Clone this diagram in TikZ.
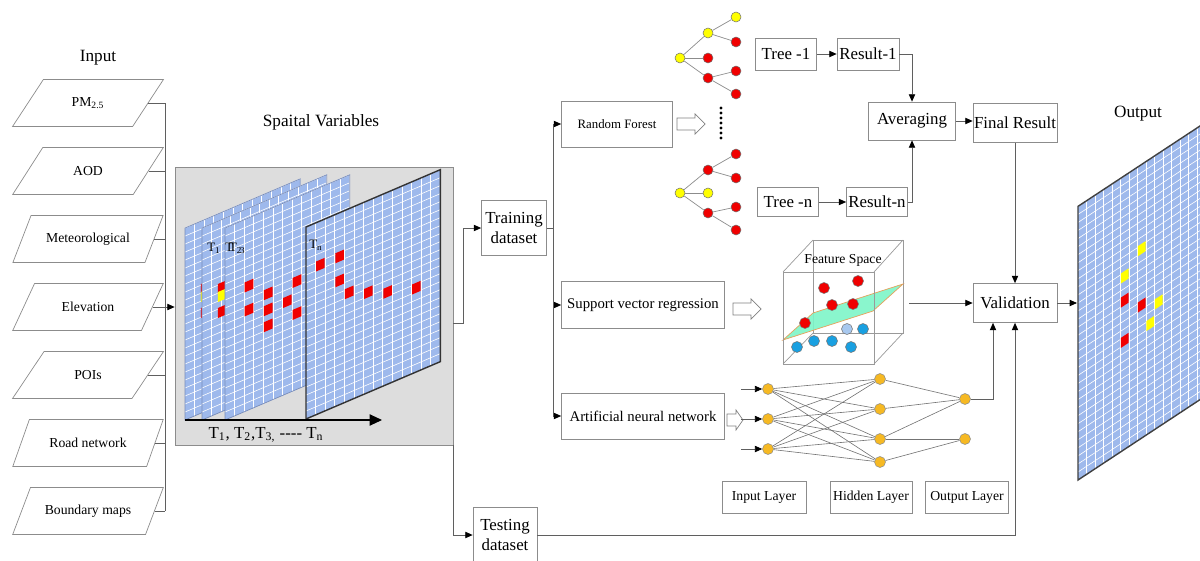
\documentclass[tikz,border=0pt]{standalone}
\usepackage{fontspec}
\setmainfont{Liberation Serif}
\usetikzlibrary{arrows.meta,calc,shapes.geometric}

\definecolor{layerblue}{RGB}{158,185,236}
\definecolor{layeredge}{RGB}{120,140,185}
\definecolor{boxgray}{RGB}{140,140,140}
\definecolor{wiregray}{RGB}{95,95,95}
\definecolor{panelgray}{RGB}{221,221,221}
\definecolor{nodeorange}{RGB}{246,185,35}
\definecolor{dotblue}{RGB}{25,160,225}
\definecolor{paleblue}{RGB}{168,200,238}
\definecolor{planegreen}{RGB}{125,245,200}
\definecolor{planeedge}{RGB}{230,160,90}
\definecolor{dotred}{RGB}{240,0,0}
\definecolor{dotyellow}{RGB}{255,255,0}

\tikzset{
  inbox/.style={draw=boxgray, trapezium, trapezium left angle=49, trapezium right angle=131,
    trapezium stretches=true, minimum width=3.02cm, minimum height=0.94cm, inner sep=1pt,
    font=\fontsize{7.8}{9}\selectfont},
  box/.style={draw=boxgray, fill=white, align=center, inner sep=0pt, font=\fontsize{9.6}{11.5}\selectfont},
  wire/.style={draw=wiregray, line width=0.5pt},
  arr/.style={wire, -{Triangle[length=4.2pt,width=3.6pt,color=black]}},
  dot/.style={circle, draw=black!55, line width=0.3pt, inner sep=0pt, minimum size=0.2cm},
  neuron/.style={dot, fill=nodeorange, draw=black!45, minimum size=0.22cm},
  nnline/.style={draw=black!55, line width=0.35pt},
  treeline/.style={draw=black!45, line width=0.4pt},
  title/.style={font=\fontsize{9.8}{11}\selectfont},
  tsmall/.style={font=\fontsize{7.3}{8}\selectfont, anchor=west, inner sep=0pt},
  grid line/.style={white, line width=0.35pt},
  layerskew/.style={x={(0.192cm,0.082cm)}, y={(0cm,0.16cm)}},
  outskew/.style={x={(0.17cm,0.112cm)}, y={(0cm,0.161cm)}},
  hollow/.style={draw=black!50, fill=white, line width=0.4pt}
}

% grid plane in the current (skewed) scope: cols, rows, edge style
\def\layerbody#1#2#3{%
  \fill[layerblue] (0,0) -- (#1,0) -- (#1,#2) -- (0,#2) -- cycle;
  \foreach \c in {1,...,#1} \draw[grid line] (\c,0) -- (\c,#2);
  \foreach \r in {1,...,#2} \draw[grid line] (0,\r) -- (#1,\r);
  \draw[#3] (0,0) -- (#1,0) -- (#1,#2) -- (0,#2) -- cycle;}
\def\cell#1#2#3{\fill[#3] (#1+0.05,#2-0.1) -- ++(0.9,0) -- ++(0,1.25) -- ++(-0.9,0) -- cycle;}
\def\hollowarrow(#1,#2)(#3:#4){\draw[hollow] (#1,#2-6) -- (#1+#3-#4,#2-6) -- (#1+#3-#4,#2-10) -- (#1+#3,#2) -- (#1+#3-#4,#2+10) -- (#1+#3-#4,#2+6) -- (#1,#2+6) -- cycle;}

\begin{document}
\begin{tikzpicture}[x=0.02cm, y=-0.02cm]
  \useasboundingbox (0,0) rectangle (1200,561);

  %%%%% INPUT %%%%%
  \node[title] (intitle) at (98,58) {Input};
  \node[inbox] (pm) at (88,103) {PM\textsubscript{2.5}};
  \node[inbox] (aod) at (88,171) {AOD};
  \node[inbox] (met) at (88,239) {Meteorological};
  \node[inbox] (elev) at (88,307) {Elevation};
  \node[inbox] (poi) at (88,375) {POIs};
  \node[inbox] (road) at (88,443) {Road network};
  \node[inbox] (bnd) at (88,511) {Boundary maps};

  %%%%% SPATIAL VARIABLES %%%%%
  \node[title] (svtitle) at (321,122) {Spaital Variables};
  \node[draw=boxgray, fill=panelgray, minimum width=5.56cm, minimum height=5.56cm, inner sep=0pt] (sv) at (314,306) {};

  \begin{scope}[shift={(185,420)}, layerskew]
    \layerbody{12}{24}{layeredge, line width=0.4pt}
    \cell{1.6}{15}{dotred} \cell{1.6}{14}{dotyellow} \cell{1.6}{12}{dotred}
  \end{scope}
  \begin{scope}[shift={(202,420)}, layerskew]
    \layerbody{13}{24}{layeredge, line width=0.4pt}
    \cell{1.6}{15}{dotred} \cell{1.6}{14}{dotyellow} \cell{1.6}{12}{dotred}
  \end{scope}
  \begin{scope}[shift={(225,420)}, layerskew]
    \layerbody{13}{24}{layeredge, line width=0.4pt}
    \cell{2}{15}{dotred} \cell{2}{12}{dotred}
    \cell{4}{13}{dotred} \cell{4}{11}{dotred} \cell{4}{9}{dotred}
    \cell{6}{11}{dotred} \cell{7}{13}{dotred} \cell{7}{9}{dotred}
  \end{scope}
  \begin{scope}[shift={(306,419)}, layerskew]
    \layerbody{14}{24}{black!80, line width=0.8pt}
    \cell{1}{18}{dotred} \cell{3}{18}{dotred} \cell{3}{15}{dotred}
    \cell{4}{13}{dotred} \cell{6}{12}{dotred} \cell{8}{11}{dotred} \cell{11}{10}{dotred}
  \end{scope}

  \node[tsmall] (t1) at (207,248) {T\textsubscript{1}};
  \node[tsmall] (t23) at (225,248) {T\kern-0.32em T\textsubscript{2\kern-0.15em 3}};
  \node[tsmall] (tn) at (309,245) {T\textsubscript{n}};

  \coordinate (axis0) at (185,420);
  \coordinate (axis1) at (382,420);
  \draw[line width=0.6pt, -{Triangle[length=7pt,width=6.4pt]}] (axis0) -- (axis1);
  \node[font=\fontsize{9.6}{11}\selectfont] (tlabel) at (266,435) {T\textsubscript{1}, T\textsubscript{2},T\textsubscript{3,} -{}-{}-{}- T\textsubscript{n}};

  %%%%% DATASETS AND MODELS %%%%%
  \node[box, minimum width=1.3cm, minimum height=1.1cm] (train) at (514,228) {Training\\dataset};
  \node[box, minimum width=1.28cm, minimum height=1.1cm] (test) at (505,535) {Testing\\dataset};
  \node[box, minimum width=2.22cm, minimum height=0.92cm, font=\fontsize{7.3}{9}\selectfont] (rf) at (617,124) {Random Forest};
  \node[box, minimum width=3.26cm, minimum height=0.94cm, font=\fontsize{8.4}{10}\selectfont] (svr) at (643,305) {Support vector regression};
  \node[box, minimum width=3.26cm, minimum height=0.92cm, font=\fontsize{8.4}{10}\selectfont] (ann) at (643,416) {Artificial neural network};

  \hollowarrow(677,124)(28:10)
  \hollowarrow(733,309)(28:10)
  \hollowarrow(727,420)(16:7)
  \foreach \y in {108,113,...,138} \fill (721,\y) circle[radius=0.9pt];

  %%%%% RANDOM FOREST %%%%%
  \node[dot, fill=dotyellow] (ra) at (680,58) {};
  \node[dot, fill=dotyellow] (ra1) at (708,33) {};
  \node[dot, fill=dotyellow] (ra11) at (736,17) {};
  \node[dot, fill=dotred] (ra12) at (736,42) {};
  \node[dot, fill=dotred] (ra2) at (708,58) {};
  \node[dot, fill=dotred] (ra3) at (708,78) {};
  \node[dot, fill=dotred] (ra31) at (736,71) {};
  \node[dot, fill=dotred] (ra32) at (736,94) {};
  \foreach \a/\b in {ra/ra1,ra/ra2,ra/ra3,ra1/ra11,ra1/ra12,ra3/ra31,ra3/ra32} \draw[treeline] (\a) -- (\b);

  \node[dot, fill=dotyellow] (rb) at (680,193) {};
  \node[dot, fill=dotred] (rb1) at (708,170) {};
  \node[dot, fill=dotred] (rb11) at (736,154) {};
  \node[dot, fill=dotred] (rb12) at (736,178) {};
  \node[dot, fill=dotyellow] (rb2) at (708,193) {};
  \node[dot, fill=dotred] (rb3) at (708,213) {};
  \node[dot, fill=dotred] (rb31) at (736,207) {};
  \node[dot, fill=dotred] (rb32) at (736,230) {};
  \foreach \a/\b in {rb/rb1,rb/rb2,rb/rb3,rb1/rb11,rb1/rb12,rb3/rb31,rb3/rb32} \draw[treeline] (\a) -- (\b);

  \node[box, minimum width=1.22cm, minimum height=0.64cm] (tree1) at (786,54) {Tree -1};
  \node[box, minimum width=1.24cm, minimum height=0.64cm] (res1) at (868,54) {Result-1};
  \node[box, minimum width=1.22cm, minimum height=0.58cm] (treen) at (788,202) {Tree -n};
  \node[box, minimum width=1.22cm, minimum height=0.58cm] (resn) at (877,202) {Result-n};
  \node[box, minimum width=1.74cm, minimum height=0.76cm] (avg) at (912,121) {Averaging};
  \node[box, minimum width=1.68cm, minimum height=0.78cm] (final) at (1015,123) {Final Result};
  \node[box, minimum width=1.68cm, minimum height=0.78cm] (valid) at (1015,303) {Validation};

  %%%%% FEATURE SPACE %%%%%
  \draw[black!40, line width=0.4pt] (813,240) rectangle (903,333);
  \draw[black!40, line width=0.4pt] (783,272) -- (813,240) (874,272) -- (903,240) (874,364) -- (903,333) (783,364) -- (813,333);
  \fill[planegreen, opacity=0.9] (783,340) -- (813,313) -- (903,284) -- (873,311) -- cycle;
  \draw[planeedge, line width=0.4pt] (783,340) -- (813,313) -- (903,284) -- (873,311) -- cycle;
  \draw[black!40, line width=0.4pt] (783,272) rectangle (874,364);
  \node[font=\fontsize{7.8}{9}\selectfont] (fstitle) at (843,260) {Feature Space};
  \foreach \p [count=\k] in {(824,288),(858,281),(832,305),(853,304),(805,323)}
    \node[dot, fill=dotred, minimum size=0.22cm] (fr\k) at \p {};
  \foreach \p [count=\k] in {(797,347),(814,341),(832,341),(851,347),(863,329)}
    \node[dot, fill=dotblue, minimum size=0.22cm] (fb\k) at \p {};
  \node[dot, fill=paleblue, minimum size=0.22cm] (fp) at (847,329) {};
  \coordinate (fsout) at (909,303);

  %%%%% NEURAL NETWORK %%%%%
  \node[neuron] (i1) at (768,389) {};
  \node[neuron] (i2) at (768,419) {};
  \node[neuron] (i3) at (768,449) {};
  \node[neuron] (h1) at (880,379) {};
  \node[neuron] (h2) at (880,409) {};
  \node[neuron] (h3) at (880,439) {};
  \node[neuron] (h4) at (880,462) {};
  \node[neuron] (o1) at (965,399) {};
  \node[neuron] (o2) at (965,439) {};
  \foreach \i in {1,2,3} \foreach \h in {1,...,4} \draw[nnline] (i\i) -- (h\h);
  \foreach \h in {1,2,3} \draw[nnline] (h\h) -- (o1);
  \foreach \h in {3,4} \draw[nnline] (h\h) -- (o2);
  \foreach \i in {1,2,3} \draw[arr] ($(i\i.west)+(-21,0)$) -- (i\i.west);

  \node[box, minimum width=1.68cm, minimum height=0.64cm, font=\fontsize{7.8}{9}\selectfont] (inlayer) at (764,497) {Input Layer};
  \node[box, minimum width=1.64cm, minimum height=0.64cm, font=\fontsize{7.8}{9}\selectfont] (hidlayer) at (871,497) {Hidden Layer};
  \node[box, minimum width=1.66cm, minimum height=0.64cm, font=\fontsize{7.8}{9}\selectfont] (outlayer) at (967,497) {Output Layer};

  %%%%% OUTPUT %%%%%
  \node[title] (outtitle) at (1138,114) {Output};
  \begin{scope}[shift={(1078,480)}, outskew]
    \layerbody{21}{34}{black!75, line width=0.8pt}
    \cell{7}{23}{dotyellow} \cell{5}{21}{dotyellow} \cell{5}{18}{dotred}
    \cell{7}{16}{dotred} \cell{9}{15}{dotyellow} \cell{8}{13}{dotyellow} \cell{5}{13}{dotred}
  \end{scope}
  \coordinate (outplane) at (1077,303);

  %%%%% CONNECTORS %%%%%
  \coordinate (bustop) at (165,103);
  \coordinate (busbot) at (165,511);
  \draw[wire] (bustop) -- (busbot);
  \foreach \n in {pm,aod,met,poi,road,bnd} \draw[wire] (\n.east) -- (\n.east -| bustop);
  \draw[arr] (elev.east) -- (elev.east -| sv.west);

  \draw[arr] ([yshift=-0.34cm]sv.east) -- ++(10,0) |- (train.west);
  \draw[arr] (sv.south east) |- (test.west);
  \draw[wire] (train.east) -- ++(6.5,0) coordinate (split);
  \draw[arr] (split) |- (rf.west);
  \draw[arr] (split) |- (svr.west);
  \draw[arr] (split) |- (ann.west);

  \draw[arr] (tree1) -- (res1);
  \draw[arr] (treen) -- (resn);
  \draw[arr] (res1.east) -| (avg.north);
  \draw[arr] (resn.east) -| (avg.south);
  \draw[arr] (avg.east) -- (avg.east -| final.west);
  \draw[arr] (final.south) -- (valid.north);
  \draw[arr] (fsout) -- (valid.west);
  \draw[arr] (o1.east) -| ($(valid.south)+(-22,0)$);
  \draw[arr] (test.east) -| (valid.south);
  \draw[arr] (valid.east) -- (outplane);
\end{tikzpicture}
\end{document}
